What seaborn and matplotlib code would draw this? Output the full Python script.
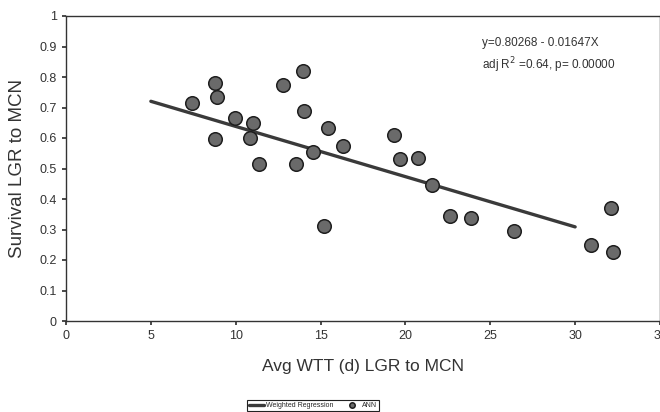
import matplotlib
matplotlib.use("Agg")
import matplotlib.pyplot as plt
import seaborn as sns
import pandas as pd
import numpy as np

# ---- data ----
wtt_days = [7.40, 8.75, 8.87, 8.75, 9.98, 11.04, 10.86, 11.39, 12.80, 13.98,
            14.03, 13.56, 14.56, 15.44, 16.32, 15.21, 19.32, 19.67, 20.73,
            21.55, 22.61, 23.84, 26.42, 30.95, 32.24, 32.12]
survival = [0.715, 0.780, 0.734, 0.597, 0.666, 0.649, 0.600, 0.515, 0.774, 0.820,
            0.689, 0.515, 0.554, 0.633, 0.574, 0.311, 0.610, 0.531, 0.534,
            0.446, 0.344, 0.338, 0.295, 0.249, 0.226, 0.370]
reg_intercept = 0.80268
reg_slope = -0.01647
reg_x_range = [5, 30]
x_ticks = [0, 5, 10, 15, 20, 25, 30, 35]
y_ticks = [0, 0.1, 0.2, 0.3, 0.4, 0.5, 0.6, 0.7, 0.8, 0.9, 1]
y_tick_labels = ["0", "0.1", "0.2", "0.3", "0.4", "0.5", "0.6", "0.7", "0.8", "0.9", "1"]
eq_text = "y=0.80268 - 0.01647X"
fit_text = "adj R$^2$ =0.64, p= 0.00000"

pts = pd.DataFrame({"x": wtt_days, "y": survival})
reg = pd.DataFrame({"x": reg_x_range,
                    "y": [reg_intercept + reg_slope * v for v in reg_x_range]})

sns.set_theme(style="white")
plt.rcParams["font.family"] = ["Liberation Sans", "DejaVu Sans"]

fig = plt.figure(figsize=(6.6, 4.12), dpi=100)
ax = fig.add_axes([66 / 660, 1 - 321 / 412, (660 - 66) / 660, 305 / 412])

sns.lineplot(data=reg, x="x", y="y", ax=ax, color="#3a3a3a", linewidth=2.4,
             label="Weighted Regression", zorder=2)
sns.scatterplot(data=pts, x="x", y="y", ax=ax, s=95, color="#6a6a6a",
                edgecolor="#1e1e1e", linewidth=1.1, label="ANN", zorder=3)

ax.set_xlim(0, 35)
ax.set_ylim(0, 1)
ax.set_xticks(x_ticks)
ax.set_yticks(y_ticks)
ax.set_yticklabels(y_tick_labels)
ax.tick_params(axis="both", labelsize=9, colors="#333333", length=3,
               direction="out", bottom=True, left=True)
for s in ax.spines.values():
    s.set_color("#333333")
    s.set_linewidth(1.0)

ax.set_xlabel("Avg WTT (d) LGR to MCN", fontsize=12.5, color="#333333", labelpad=12)
ax.set_ylabel("Survival LGR to MCN", fontsize=13.5, color="#333333", labelpad=10)

ax.text(0.70, 0.91, eq_text, transform=ax.transAxes, fontsize=8.5,
        color="#333333", va="center", ha="left")
ax.text(0.70, 0.84, fit_text, transform=ax.transAxes, fontsize=8.5,
        color="#333333", va="center", ha="left")

handles, labels = ax.get_legend_handles_labels()
ax.get_legend().remove()
leg = fig.legend(handles, labels, loc="upper center", bbox_to_anchor=(0.474, 0.037),
                 ncol=2, fontsize=5, frameon=True, fancybox=False,
                 edgecolor="#222222", framealpha=1, borderpad=0.3,
                 handlelength=2.2, handletextpad=0.3, columnspacing=1.5,
                 markerscale=0.4)
leg.get_frame().set_linewidth(0.8)

fig.savefig("out.png", dpi=100)
